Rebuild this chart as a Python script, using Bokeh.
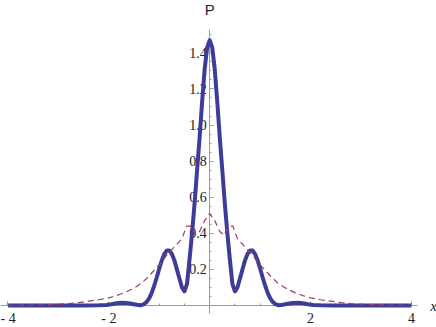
from bokeh.plotting import figure
from bokeh.models import LinearAxis, FixedTicker, Label, Range1d
from bokeh.embed import file_html
from bokeh.resources import INLINE

# Solid curve (thick blue)
solid_x = [-4.0, -3.5, -3.0, -2.5, -2.2, -2.05, -1.95, -1.85, -1.75, -1.65, -1.55, -1.45, -1.37,
           -1.3, -1.25, -1.2, -1.15, -1.1, -1.05, -1.0, -0.95, -0.9, -0.85, -0.8, -0.75, -0.7,
           -0.65, -0.6, -0.55, -0.5, -0.45, -0.4, -0.35, -0.3, -0.25, -0.2, -0.15, -0.1, -0.05,
           0.0,
           0.05, 0.1, 0.15, 0.2, 0.25, 0.3, 0.35, 0.4, 0.45, 0.5, 0.55, 0.6, 0.65, 0.7, 0.75,
           0.8, 0.85, 0.9, 0.95, 1.0, 1.05, 1.1, 1.15, 1.2, 1.25, 1.3, 1.37, 1.45, 1.55, 1.65,
           1.75, 1.85, 1.95, 2.05, 2.2, 2.5, 3.0, 3.5, 4.0]
solid_y = [0.0, 0.0, 0.0, 0.0, 0.001, 0.003, 0.007, 0.012, 0.015, 0.014, 0.010, 0.004, 0.001,
           0.008, 0.02, 0.04, 0.07, 0.11, 0.155, 0.205, 0.25, 0.285, 0.305, 0.305, 0.285, 0.25,
           0.20, 0.15, 0.10, 0.078, 0.12, 0.255, 0.40, 0.565, 0.75, 0.93, 1.13, 1.31, 1.43,
           1.47,
           1.43, 1.31, 1.13, 0.93, 0.75, 0.565, 0.40, 0.255, 0.12, 0.078, 0.10, 0.15, 0.20, 0.25, 0.285,
           0.305, 0.305, 0.285, 0.25, 0.205, 0.155, 0.11, 0.07, 0.04, 0.02, 0.008, 0.001, 0.004, 0.010, 0.014,
           0.015, 0.012, 0.007, 0.003, 0.001, 0.0, 0.0, 0.0, 0.0]

# Dashed curve (thin purple)
dashed_x = [-4.0, -3.6, -3.3, -3.0, -2.8, -2.6, -2.4, -2.2, -2.0, -1.85, -1.7, -1.55, -1.45,
            -1.35, -1.25, -1.15, -1.05, -0.95, -0.85, -0.75, -0.65, -0.55, -0.46, -0.38, -0.28,
            -0.2, -0.1, 0.0, 0.1, 0.2, 0.28, 0.38, 0.46, 0.55, 0.65, 0.75, 0.85, 0.95, 1.05,
            1.15, 1.25, 1.35, 1.45, 1.55, 1.7, 1.85, 2.0, 2.2, 2.4, 2.6, 2.8, 3.0, 3.3, 3.6, 4.0]
dashed_y = [0.001, 0.002, 0.004, 0.007, 0.011, 0.016, 0.024, 0.032, 0.042, 0.055, 0.07, 0.09, 0.105,
            0.125, 0.15, 0.18, 0.21, 0.24, 0.28, 0.31, 0.34, 0.37, 0.44, 0.44, 0.39,
            0.41, 0.47, 0.51, 0.47, 0.41, 0.39, 0.44, 0.44, 0.37, 0.34, 0.31, 0.28, 0.24, 0.21,
            0.18, 0.15, 0.125, 0.105, 0.09, 0.07, 0.055, 0.042, 0.032, 0.024, 0.016, 0.011, 0.007, 0.004, 0.002, 0.001]

x_major = [-4, -2, 2, 4]
x_minor = [-4.0, -3.5, -3.0, -2.5, -2.0, -1.5, -1.0, -0.5, 0.5, 1.0, 1.5, 2.0, 2.5, 3.0, 3.5, 4.0]
x_labels = {-4: "- 4", -2: "- 2", 2: "2", 4: "4"}
y_major = [0.2, 0.4, 0.6, 0.8, 1.0, 1.2, 1.4]
y_minor = [round(0.05 * i, 2) for i in range(1, 31)]
y_labels = {0.2: "0.2", 0.4: "0.4", 0.6: "0.6", 0.8: "0.8", 1.0: "1.0", 1.2: "1.2", 1.4: "1.4"}

p = figure(width=436, height=327, x_range=Range1d(-4.148, 4.497), y_range=Range1d(-0.1219, 1.690),
           output_backend="svg", toolbar_location=None, x_axis_type=None, y_axis_type=None,
           min_border=0)
p.outline_line_color = None
p.background_fill_color = "white"
p.border_fill_color = "white"

axis_gray = "#9a9a9a"
label_color = "#222222"

xaxis = LinearAxis(fixed_location=0, ticker=FixedTicker(ticks=x_major, minor_ticks=x_minor),
                   bounds=(-4.2, 4.13), major_label_overrides=x_labels)
yaxis = LinearAxis(fixed_location=0, ticker=FixedTicker(ticks=y_major, minor_ticks=y_minor),
                   bounds=(-0.045, 1.53), major_label_overrides=y_labels)
for ax in (xaxis, yaxis):
    ax.axis_line_color = axis_gray
    ax.axis_line_width = 1
    ax.major_tick_line_color = axis_gray
    ax.minor_tick_line_color = axis_gray
    ax.major_tick_in = 4
    ax.major_tick_out = 0
    ax.minor_tick_in = 2
    ax.minor_tick_out = 0
    ax.major_label_text_font = "Liberation Serif"
    ax.major_label_text_font_size = "14px"
    ax.major_label_text_color = label_color
    ax.level = "underlay"
xaxis.major_label_standoff = 5
yaxis.major_label_standoff = 3
p.add_layout(xaxis, "below")
p.add_layout(yaxis, "left")

p.line(solid_x, solid_y, line_color="#3d3d99", line_width=4, line_join="round")
p.line(dashed_x, dashed_y, line_color="#993d71", line_width=1.2, line_dash="6 4")

p.add_layout(Label(x=0, y=1.64, text="P", text_align="center", text_baseline="middle",
                   text_font="Liberation Sans", text_font_size="15px", text_color=label_color))
p.add_layout(Label(x=4.44, y=0.0, text="x", text_align="center", text_baseline="middle",
                   text_font="Liberation Serif", text_font_style="italic", text_font_size="15px",
                   text_color=label_color))

open("out.html", "w").write(file_html(p, INLINE))
